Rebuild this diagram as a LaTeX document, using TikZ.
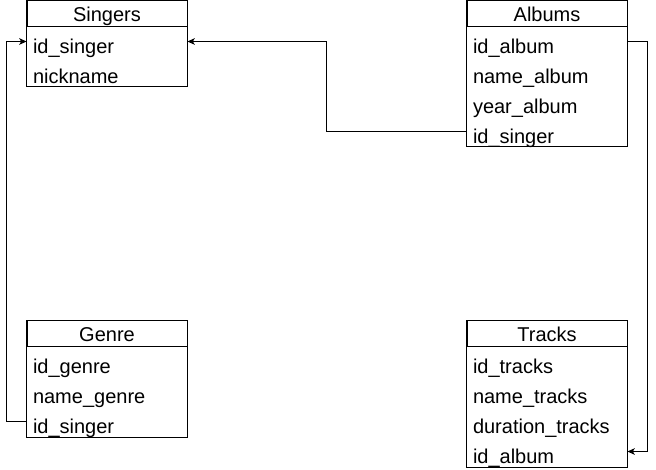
\documentclass[tikz,border=0pt]{standalone}
\usepackage{fontspec}
\setmainfont{Liberation Sans}
\usetikzlibrary{arrows.meta,fit}
\newcommand{\tabfont}{\fontsize{15}{18}\selectfont}
\begin{document}
\begin{tikzpicture}[x=0.75pt,y=-0.75pt,
  line width=0.75pt,
  tabtitle/.style={draw, minimum width=120pt, minimum height=19.5pt, inner sep=0pt,
    text height=12pt, text depth=0pt, font=\tabfont},
  tabrow/.style={minimum width=120pt, minimum height=22.5pt, text width=111pt,
    inner xsep=4.5pt, inner ysep=0pt, align=left, text height=18pt, text depth=0pt, font=\tabfont},
  tabframe/.style={draw, inner sep=0pt},
  conn/.style={-{Stealth[length=5.5pt,width=5pt,inset=1.5pt]}, line width=0.75pt}
]
\useasboundingbox (0,-0.5) rectangle (656,469.5);
% Singers
\node[tabtitle] (st) at (107,13) {Singers};
\node[tabrow] (s1) at (107,41) {id\_singer};
\node[tabrow] (s2) at (107,71) {nickname};
\node[tabframe, fit=(st)(s2)] (singers) {};
% Albums
\node[tabtitle] (at) at (547,13) {Albums};
\node[tabrow] (a1) at (547,41) {id\_album};
\node[tabrow] (a2) at (547,71) {name\_album};
\node[tabrow] (a3) at (547,101) {year\_album};
\node[tabrow] (a4) at (547,131) {id\_singer};
\node[tabframe, fit=(at)(a4)] (albums) {};
% Genre
\node[tabtitle] (gt) at (107,333) {Genre};
\node[tabrow] (g1) at (107,361) {id\_genre};
\node[tabrow] (g2) at (107,391) {name\_genre};
\node[tabrow] (g3) at (107,421) {id\_singer};
\node[tabframe, fit=(gt)(g3)] (genre) {};
% Tracks
\node[tabtitle] (tt) at (547,333) {Tracks};
\node[tabrow] (t1) at (547,361) {id\_tracks};
\node[tabrow] (t2) at (547,391) {name\_tracks};
\node[tabrow] (t3) at (547,421) {duration\_tracks};
\node[tabrow] (t4) at (547,451) {id\_album};
\node[tabframe, fit=(tt)(t4)] (tracks) {};
% connectors
\draw[conn] (a4.west) -- ++(-140,0) |- (s1.east);
\draw[conn] (g3.west) -- ++(-20,0) |- (s1.west);
\draw[conn] (a1.east) -- ++(20,0) |- (t4.east);
\end{tikzpicture}
\end{document}
